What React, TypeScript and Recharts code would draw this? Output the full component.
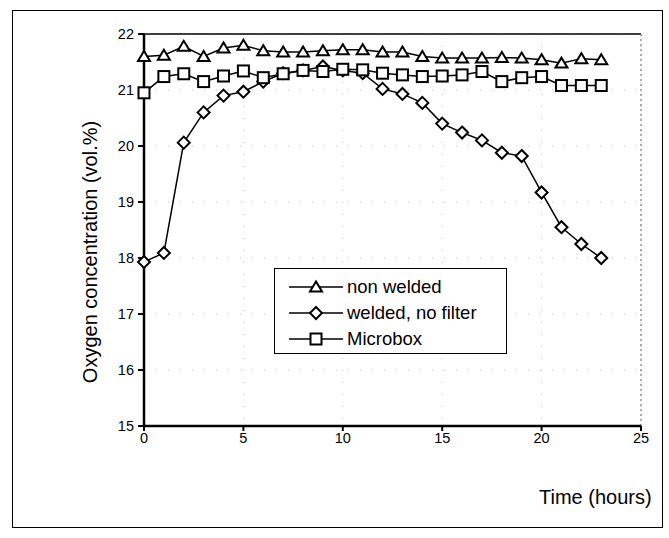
import React from 'react';
import { CartesianGrid, Legend, Line, LineChart, ReferenceLine, XAxis, YAxis } from 'recharts';

const hours = [0, 1, 2, 3, 4, 5, 6, 7, 8, 9, 10, 11, 12, 13, 14, 15, 16, 17, 18, 19, 20, 21, 22, 23];
const nonWelded = [21.6, 21.62, 21.78, 21.6, 21.75, 21.8, 21.7, 21.68, 21.68, 21.7, 21.72, 21.72, 21.68, 21.68, 21.6, 21.57, 21.57, 21.57, 21.58, 21.57, 21.54, 21.48, 21.56, 21.54];
const weldedNoFilter = [17.93, 18.09, 20.06, 20.6, 20.9, 20.97, 21.15, 21.3, 21.35, 21.42, 21.35, 21.3, 21.02, 20.93, 20.77, 20.4, 20.24, 20.1, 19.88, 19.82, 19.17, 18.55, 18.25, 18.0];
const microbox = [20.95, 21.24, 21.29, 21.15, 21.25, 21.34, 21.22, 21.29, 21.35, 21.33, 21.37, 21.36, 21.3, 21.27, 21.24, 21.25, 21.27, 21.33, 21.15, 21.22, 21.24, 21.08, 21.08, 21.08];
const xTicks = [0, 5, 10, 15, 20, 25];
const yTicks = [15, 16, 17, 18, 19, 20, 21, 22];

const data = hours.map((h, i) => ({
  h,
  nonWelded: nonWelded[i],
  welded: weldedNoFilter[i],
  microbox: microbox[i],
}));

const FONT = '"Liberation Sans", Arial, sans-serif';

type Shape = 'triangle' | 'diamond' | 'square';

function marker(shape: Shape, cx: number, cy: number, key?: string | number) {
  const common = { fill: '#fff', stroke: '#000', strokeWidth: 2 };
  if (shape === 'triangle') {
    return <polygon key={key} points={`${cx},${cy - 5.5} ${cx - 6},${cy + 4.5} ${cx + 6},${cy + 4.5}`} {...common} />;
  }
  if (shape === 'diamond') {
    return <polygon key={key} points={`${cx},${cy - 6} ${cx + 6},${cy} ${cx},${cy + 6} ${cx - 6},${cy}`} {...common} />;
  }
  return <rect key={key} x={cx - 5.5} y={cy - 5.5} width={11} height={11} {...common} />;
}

const dotFor = (shape: Shape) => (p: any) => {
  if (p.cx == null || p.cy == null) return <g key={p.index} />;
  return marker(shape, p.cx, p.cy, p.index);
};

const legendItems: { label: string; shape: Shape }[] = [
  { label: 'non welded', shape: 'triangle' },
  { label: 'welded, no filter', shape: 'diamond' },
  { label: 'Microbox', shape: 'square' },
];

function LegendBox() {
  return (
    <div
      style={{
        width: 233,
        height: 86,
        border: '1.5px solid #000',
        background: '#fff',
        boxSizing: 'border-box',
        padding: '5px 0 0 12px',
        fontFamily: FONT,
        fontSize: 18.5,
        color: '#000',
      }}
    >
      {legendItems.map((it) => (
        <div key={it.label} style={{ display: 'flex', alignItems: 'center', height: 26 }}>
          <svg width={58} height={20} style={{ flex: 'none' }}>
            <line x1={2} y1={10} x2={56} y2={10} stroke="#000" strokeWidth={1.5} />
            {marker(it.shape, 29, 10)}
          </svg>
          <span style={{ marginLeft: 2, whiteSpace: 'nowrap' }}>{it.label}</span>
        </div>
      ))}
    </div>
  );
}

export default function App() {
  return (
    <div style={{ position: 'absolute', left: 0, top: 0, width: 669, height: 538, background: '#fff' }}>
      <div
        style={{
          position: 'absolute',
          left: 12,
          top: 10,
          width: 651,
          height: 518,
          border: '1.5px solid #000',
          boxSizing: 'border-box',
        }}
      />
      <LineChart width={669} height={538} data={data} margin={{ top: 34, right: 28, left: 0, bottom: 82 }}>
        <CartesianGrid stroke="#c4c4c4" strokeDasharray="1 11" />
        <XAxis
          dataKey="h"
          type="number"
          domain={[0, 25]}
          ticks={xTicks}
          height={30}
          axisLine={{ stroke: '#000', strokeWidth: 2.5 }}
          tickLine={{ stroke: '#000', strokeWidth: 2 }}
          tickSize={5}
          tick={{ fill: '#000', fontSize: 14.5, fontFamily: FONT }}
        />
        <YAxis
          type="number"
          domain={[15, 22]}
          ticks={yTicks}
          width={144}
          axisLine={{ stroke: '#000', strokeWidth: 2.5 }}
          tickLine={{ stroke: '#000', strokeWidth: 2 }}
          tickSize={6}
          tickMargin={4}
          tick={{ fill: '#000', fontSize: 14.5, fontFamily: FONT }}
        />
        <ReferenceLine y={22} stroke="#000" strokeWidth={1.3} />
        <ReferenceLine x={25} stroke="#777" strokeWidth={1.2} strokeDasharray="2 3" />
        <Legend layout="horizontal" verticalAlign="middle" align="center" content={<LegendBox />} wrapperStyle={{ position: 'absolute', left: 274, top: 268, width: 'auto', height: 'auto' }} />
        <Line dataKey="welded" stroke="#000" strokeWidth={1.5} dot={dotFor('diamond')} activeDot={false} isAnimationActive={false} />
        <Line dataKey="microbox" stroke="#000" strokeWidth={1.5} dot={dotFor('square')} activeDot={false} isAnimationActive={false} />
        <Line dataKey="nonWelded" stroke="#000" strokeWidth={1.5} dot={dotFor('triangle')} activeDot={false} isAnimationActive={false} />
      </LineChart>
      <div
        style={{
          position: 'absolute',
          left: 90,
          top: 252,
          transform: 'translate(-50%, -50%) rotate(-90deg)',
          whiteSpace: 'nowrap',
          fontFamily: FONT,
          fontSize: 20,
          color: '#000',
        }}
      >
        Oxygen concentration (vol.%)
      </div>
      <div
        style={{
          position: 'absolute',
          left: 539,
          top: 486,
          whiteSpace: 'nowrap',
          fontFamily: FONT,
          fontSize: 20,
          color: '#000',
        }}
      >
        Time (hours)
      </div>
    </div>
  );
}
